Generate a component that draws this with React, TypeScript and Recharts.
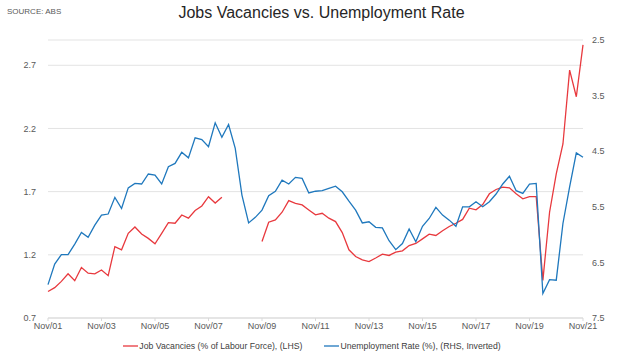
import React from "react";
import { LineChart, Line, XAxis, YAxis, CartesianGrid, Legend } from "recharts";

// quarterly periods, Nov 2001 .. Nov 2021
const monthNames = ["Nov", "Feb", "May", "Aug"];
const periods: string[] = [];
for (let i = 0; i <= 80; i++) {
  const yr = 2001 + Math.floor((i + 3) / 4);
  periods.push(`${monthNames[i % 4]}/${String(yr % 100).padStart(2, "0")}`);
}

const xTicks = ["Nov/01", "Nov/03", "Nov/05", "Nov/07", "Nov/09", "Nov/11", "Nov/13", "Nov/15", "Nov/17", "Nov/19", "Nov/21"];
const leftTicks = [0.7, 1.2, 1.7, 2.2, 2.7];
const rightTicks = [2.5, 3.5, 4.5, 5.5, 6.5, 7.5];

// job vacancies, % of labour force (survey suspended Aug08 - Aug09)
const vacancies: (number | null)[] = [
  0.91, 0.94, 0.99, 1.05, 0.995, 1.1, 1.055, 1.05, 1.08, 1.035,
  1.265, 1.24, 1.37, 1.42, 1.365, 1.33, 1.287, 1.37, 1.455, 1.45,
  1.515, 1.49, 1.55, 1.587, 1.66, 1.61, 1.656, null, null, null,
  null, null, 1.305, 1.458, 1.476, 1.537, 1.629, 1.608, 1.595, 1.555,
  1.516, 1.529, 1.49, 1.463, 1.376, 1.24, 1.187, 1.16, 1.147, 1.175,
  1.205, 1.195, 1.221, 1.232, 1.273, 1.29, 1.326, 1.363, 1.353, 1.39,
  1.424, 1.45, 1.48, 1.569, 1.556, 1.598, 1.683, 1.717, 1.735, 1.73,
  1.683, 1.643, 1.661, 1.661, 0.998, 1.537, 1.84, 2.077, 2.662, 2.451,
  2.862,
];

// unemployment rate, %
const unemployment: number[] = [
  6.9, 6.53, 6.36, 6.36, 6.17, 5.96, 6.05, 5.83, 5.65, 5.63,
  5.33, 5.53, 5.16, 5.08, 5.09, 4.91, 4.93, 5.09, 4.78, 4.72,
  4.52, 4.62, 4.26, 4.29, 4.42, 3.99, 4.25, 4.02, 4.45, 5.29,
  5.79, 5.69, 5.56, 5.3, 5.22, 5.02, 5.09, 4.97, 4.99, 5.25,
  5.22, 5.21, 5.17, 5.13, 5.23, 5.4, 5.56, 5.79, 5.77, 5.87,
  5.88, 6.11, 6.27, 6.16, 5.9, 6.13, 5.85, 5.71, 5.51, 5.65,
  5.74, 5.85, 5.5, 5.5, 5.41, 5.5, 5.41, 5.27, 5.09, 4.95,
  5.21, 5.26, 5.09, 5.08, 7.06, 6.81, 6.82, 5.8, 5.14, 4.53,
  4.61,
];

const data = periods.map((p, i) => ({
  period: p,
  vacancies: vacancies[i],
  unemployment: unemployment[i],
}));

const tickStyle = { fontSize: 9, fill: "#595959" };

function LegendContent(props: any) {
  const items = props.payload || [];
  return (
    <div
      style={{
        display: "flex",
        justifyContent: "center",
        alignItems: "center",
        height: 16,
        paddingRight: 16,
        fontSize: 8.7,
        color: "#404040",
      }}
    >
      {items.map((it: any, i: number) => (
        <div key={i} style={{ display: "flex", alignItems: "center", marginLeft: i ? 22 : 0 }}>
          <svg width={15} height={4} style={{ marginRight: 1 }}>
            <line x1={0} y1={2} x2={15} y2={2} stroke={it.color} strokeWidth={1.3} />
          </svg>
          <span>{it.value}</span>
        </div>
      ))}
    </div>
  );
}

export default function App() {
  return (
    <div
      style={{
        position: "absolute",
        left: 0,
        top: 0,
        width: 640,
        height: 354,
        background: "#fff",
        fontFamily: "'Liberation Sans', Arial, sans-serif",
      }}
    >
      <div style={{ position: "absolute", left: 7, top: 7, fontSize: 8, color: "#595959" }}>
        SOURCE: ABS
      </div>
      <div
        style={{
          position: "absolute",
          left: 0,
          top: 4,
          width: 643,
          textAlign: "center",
          fontSize: 16,
          color: "#262626",
        }}
      >
        Jobs Vacancies vs. Unemployment Rate
      </div>
      <LineChart
        width={640}
        height={354}
        data={data}
        margin={{ top: 40, right: 0, bottom: 0, left: 0 }}
      >
        <CartesianGrid yAxisId="left" vertical={false} stroke="#e3e3e3" />
        <XAxis
          dataKey="period"
          ticks={xTicks}
          interval={0}
          height={20}
          tick={tickStyle}
          tickSize={3}
          tickMargin={2}
          stroke="#d9d9d9"
        />
        <YAxis
          yAxisId="left"
          width={48}
          domain={[0.7, 2.9]}
          ticks={leftTicks}
          allowDataOverflow
          axisLine={false}
          tickLine={false}
          tickSize={0}
          tickMargin={12}
          tick={tickStyle}
          tickFormatter={(v: number) => v.toFixed(1)}
        />
        <YAxis
          yAxisId="right"
          orientation="right"
          width={57}
          domain={[2.5, 7.5]}
          ticks={rightTicks}
          reversed
          axisLine={false}
          tickLine={false}
          tickSize={0}
          tickMargin={9}
          tick={tickStyle}
          tickFormatter={(v: number) => v.toFixed(1)}
        />
        <Legend
          verticalAlign="bottom"
          wrapperStyle={{ height: 16, bottom: 0 }}
          content={LegendContent}
        />
        <Line
          yAxisId="left"
          type="linear"
          name="Job Vacancies (% of Labour Force), (LHS)"
          dataKey="vacancies"
          stroke="#e8393e"
          strokeWidth={1.3}
          dot={false}
          isAnimationActive={false}
        />
        <Line
          yAxisId="right"
          type="linear"
          name="Unemployment Rate (%), (RHS, Inverted)"
          dataKey="unemployment"
          stroke="#1f78bd"
          strokeWidth={1.3}
          dot={false}
          isAnimationActive={false}
        />
      </LineChart>
    </div>
  );
}
